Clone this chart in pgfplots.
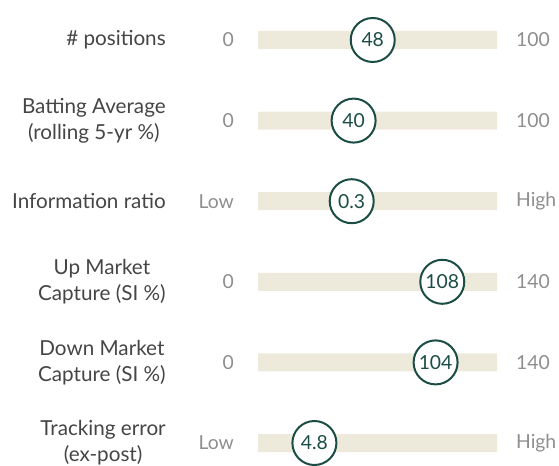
\documentclass[border=0pt]{standalone}
\usepackage{pgfplots}
\pgfplotsset{compat=1.18}
\usepackage{pgfplotstable}
\usepackage{fontspec}
\setmainfont{Lato}

\definecolor{barbeige}{HTML}{EDEADB}
\definecolor{dkgreen}{HTML}{1B4D45}
\definecolor{lbltext}{HTML}{454545}
\definecolor{endtext}{HTML}{8E8E8E}

% pos = marker position on a 0-100 track, val = printed value
\pgfplotstableread[col sep=comma]{
row,pos,val,lo,hi
0,48,48,0,100
1,40,40,0,100
2,39.2,0.3,Low,High
3,77.1,108,0,140
4,74.3,104,0,140
5,23.6,4.8,Low,High
}\metrics

\pgfplotstableread[col sep=semicolon]{
row;name
0;\# positions
1;Batting Average\\(rolling 5-yr \%)
2;Information ratio
3;Up Market\\Capture (SI \%)
4;Down Market\\Capture (SI \%)
5;Tracking error\\(ex-post)
}\names

\begin{document}
\begin{tikzpicture}
\begin{axis}[
    scale only axis,
    width=419.25pt, height=348.75pt,
    xmin=-107.95, xmax=125.94,
    ymin=-0.496, ymax=5.273,
    y dir=reverse,
    axis lines=none,
    clip=false,
    font=\fontsize{14.5}{18.5}\selectfont,
]
% tracks
\addplot[xbar, bar width=13.5pt, fill=barbeige, draw=none]
    table[x expr=100, y=row, col sep=comma] {\metrics};
% left labels
\addplot[only marks, mark=none, nodes near coords,
    point meta=explicit symbolic,
    every node near coord/.style={anchor=east, align=center, text=lbltext, inner sep=0pt,
        font=\fontsize{15.5}{19.5}\selectfont}]
    table[x expr=-38.5, y=row, meta=name, col sep=semicolon] {\names};
% min labels
\addplot[only marks, mark=none, nodes near coords,
    point meta=explicit symbolic,
    every node near coord/.style={anchor=east, text=endtext, inner sep=0pt}]
    table[x expr=-10, y=row, meta=lo, col sep=comma] {\metrics};
% max labels
\addplot[only marks, mark=none, nodes near coords,
    point meta=explicit symbolic,
    every node near coord/.style={anchor=west, text=endtext, inner sep=0pt}]
    table[x expr=107.9, y=row, meta=hi, col sep=comma] {\metrics};
% value markers
\addplot[only marks, mark=*, mark size=16.5pt,
    mark options={draw=dkgreen, fill=white, line width=1.5pt},
    nodes near coords, point meta=explicit symbolic,
    every node near coord/.style={anchor=center, text=dkgreen, inner sep=0pt}]
    table[x=pos, y=row, meta=val, col sep=comma] {\metrics};
\end{axis}
\pgfresetboundingbox
\useasboundingbox (current axis.south west) rectangle (current axis.north east);
\end{tikzpicture}
\end{document}
